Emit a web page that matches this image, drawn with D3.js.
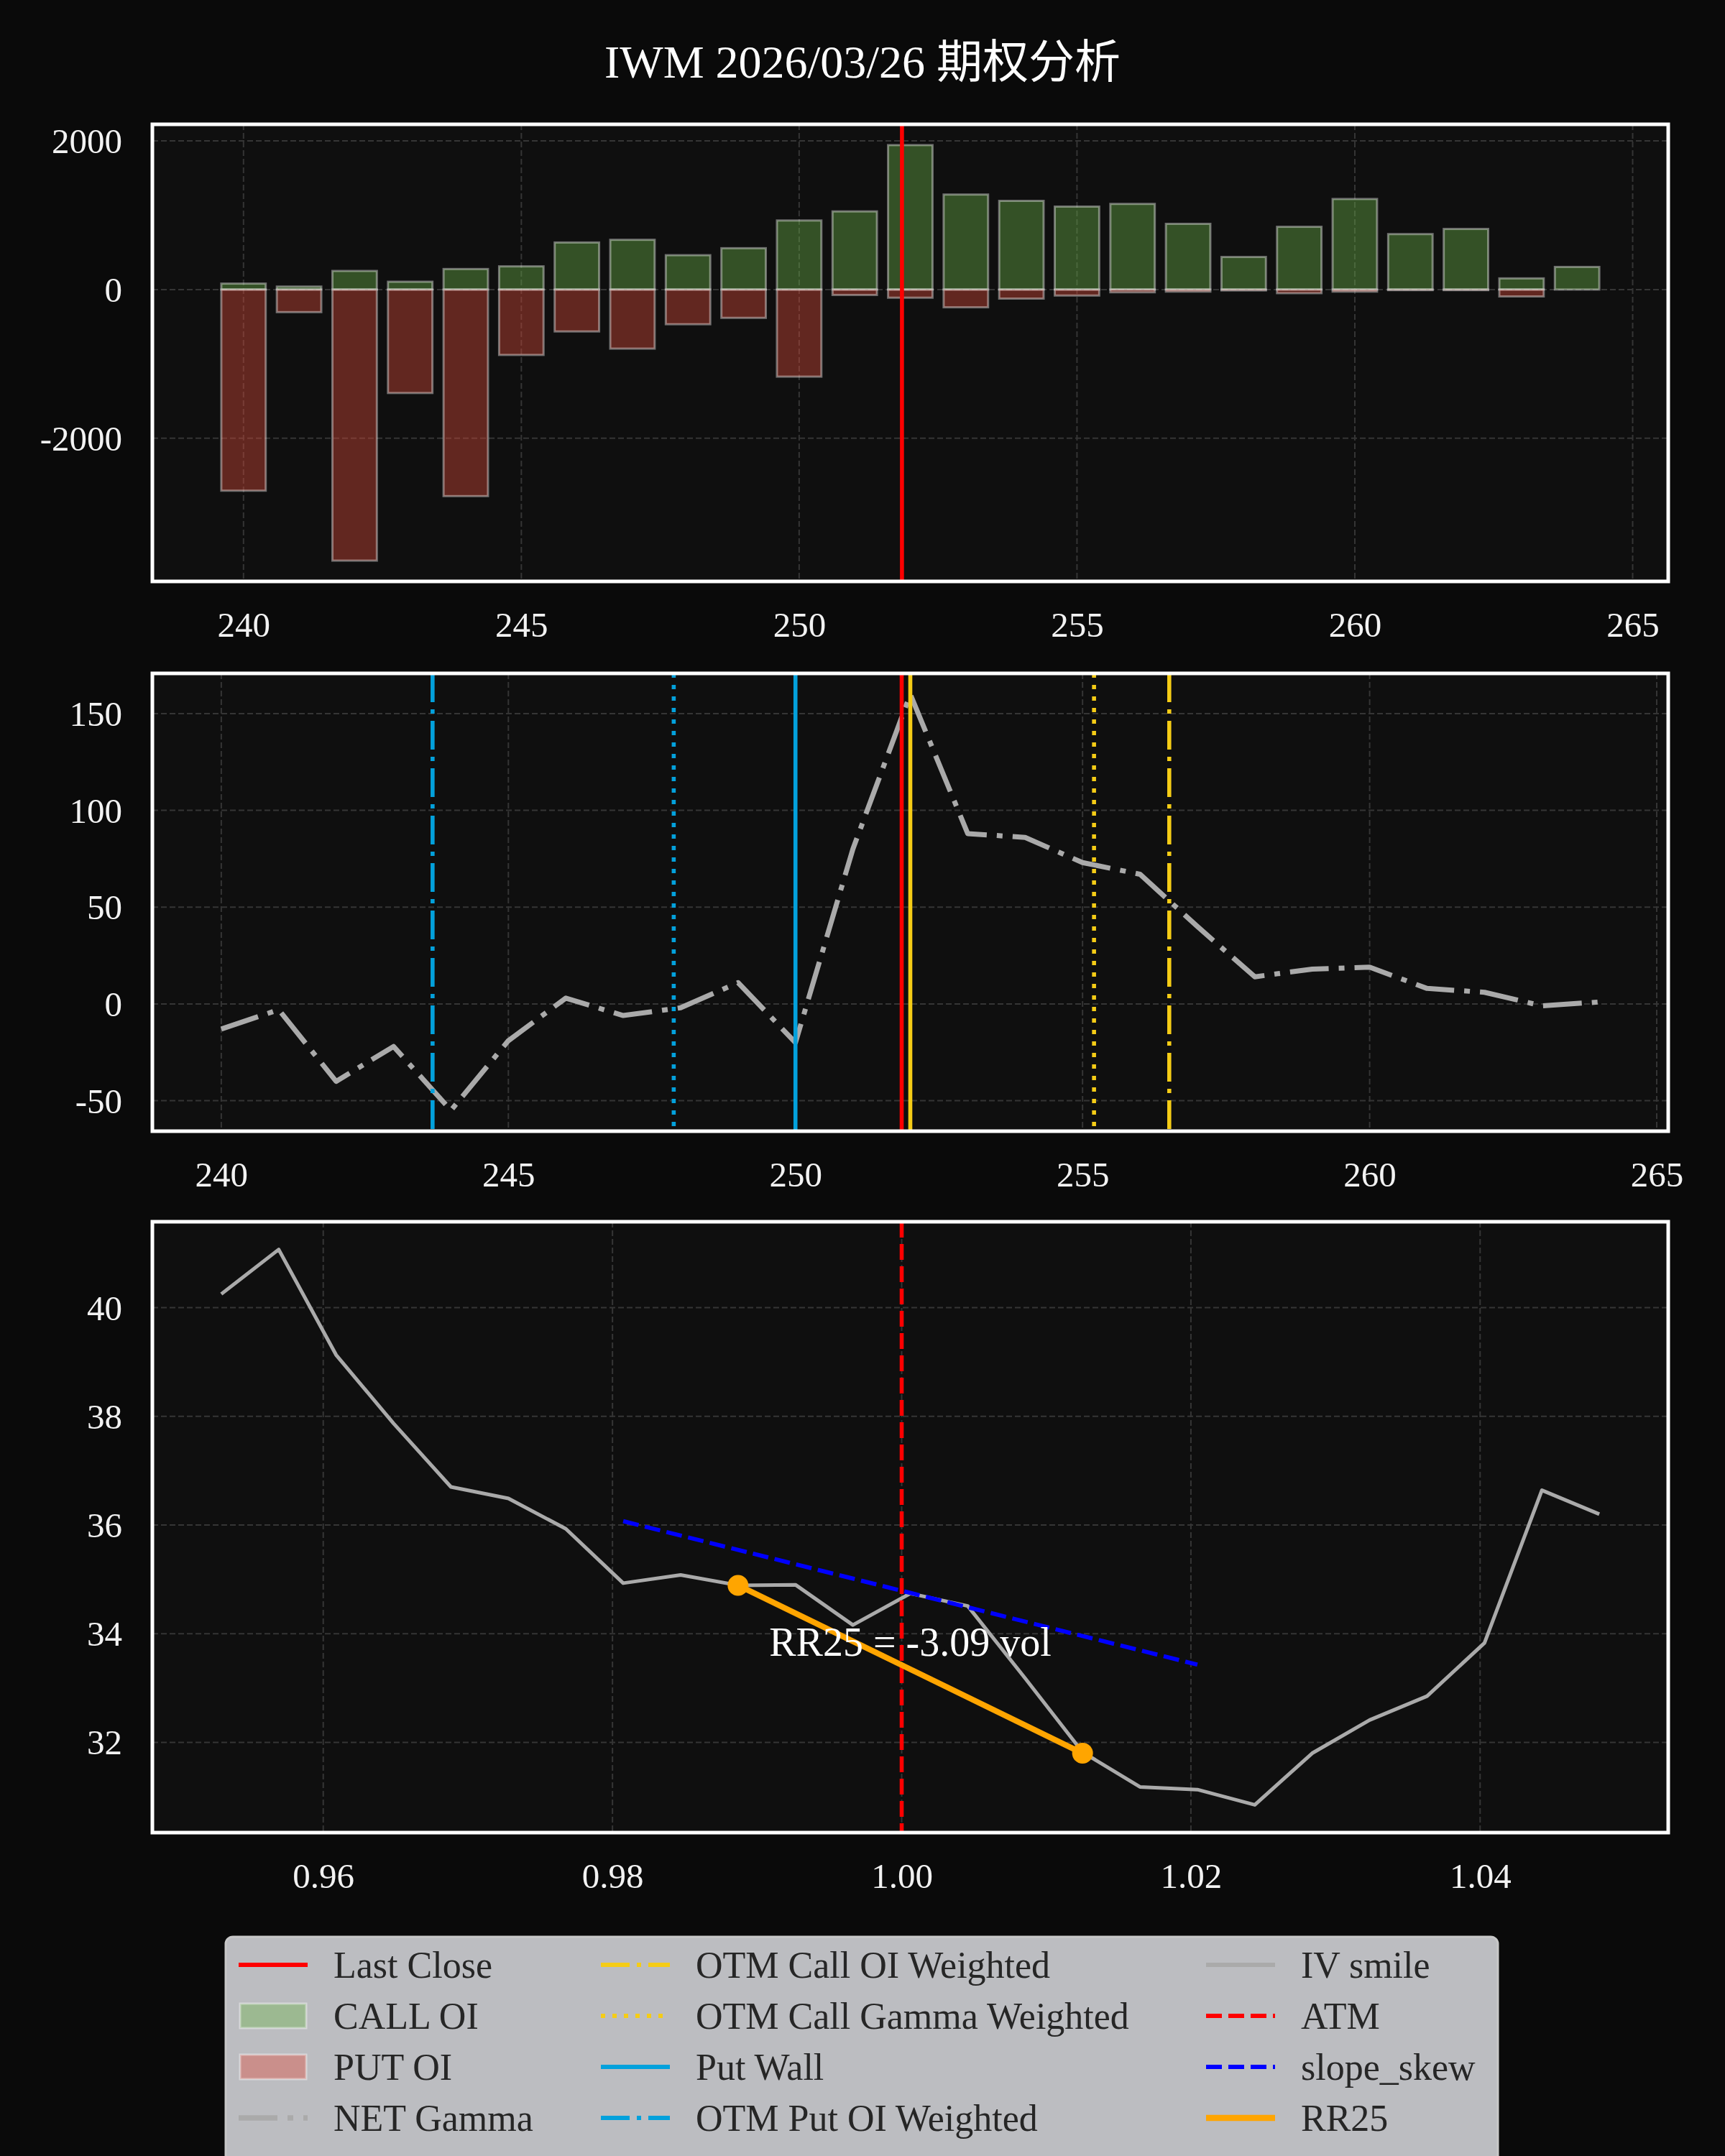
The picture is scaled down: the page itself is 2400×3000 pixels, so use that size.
<!DOCTYPE html>
<html>
<head>
<meta charset="utf-8">
<script src="https://cdn.jsdelivr.net/npm/d3@7"></script>
<style>
  html, body { margin: 0; padding: 0; background: #0a0a0a; }
  svg { display: block; }
</style>
</head>
<body>
<div id="chart"></div>
<script>
// ---- data ----
const strikes = [240, 241, 242, 243, 244, 245, 246, 247, 248, 249, 250, 251, 252,
  253, 254, 255, 256, 257, 258, 259, 260, 261, 262, 263, 264];
const callOI = [80, 40, 250, 105, 276, 312, 633, 669, 462, 556, 929, 1051, 1943,
  1278, 1193, 1116, 1152, 884, 438, 844, 1218, 746, 815, 150, 304];
const putOI = [-2706, -304, -3647, -1392, -2779, -880, -564, -795, -467, -381, -1172, -73, -110,
  -239, -122, -81, -37, -28, -12, -49, -28, -8, -8, -93, 0];
const netGamma = [-13, -3, -40, -22, -55, -19, 3, -6, -2, 11, -20, 80, 160,
  88, 86, 73, 67, 40, 14, 18, 19, 8, 6, -1, 1];
const ivSmile = [40.25, 41.07, 39.13, 37.87, 36.70, 36.49, 35.93, 34.93, 35.08, 34.89, 34.90, 34.16, 34.74,
  34.51, 33.18, 31.82, 31.18, 31.13, 30.85, 31.80, 32.41, 32.85, 33.83, 36.64, 36.20];

const lastClose = 251.85;
const putWall = 250;
const callWall = 252;
const otmPutOI = 243.68;
const otmPutGamma = 247.88;
const otmCallGamma = 255.2;
const otmCallOI = 256.51;

const rrStrikes = [249, 255];
const rrIV = [34.89, 31.80];
const rr25 = -3.09;
const slopeStrikes = [247, 257];
const slopeIV = [36.07, 33.43];

const oiTicks = [-2000, 0, 2000];
const strikeTicks = [240, 245, 250, 255, 260, 265];
const gammaTicks = [-50, 0, 50, 100, 150];
const ivTicks = [32, 34, 36, 38, 40];
const moneyTicks = [0.96, 0.98, 1.00, 1.02, 1.04];

const title = "IWM 2026/03/26 期权分析";

// ---- layout ----
const W = 2400, H = 3000;
const L = 212, R = 2321;
const frames = [
  { top: 173, bottom: 809 },
  { top: 937, bottom: 1574 },
  { top: 1700, bottom: 2550 },
];
const FONT = "'Liberation Serif', 'DejaVu Serif', 'Noto Sans CJK SC', serif";
const GRID = "#353535";
const CALL_C = "#6cb548", PUT_C = "#de4a3a";
const YEL = "#f5cc16", BLU = "#03a1dc";
const DASHDOT = "40,10,6,10", DOTTED = "6,10", DASHED = "22,9";

const pad = (lo, hi, f = 0.05) => [lo - (hi - lo) * f, hi + (hi - lo) * f];

const svg = d3.select("#chart").append("svg")
  .attr("width", W).attr("height", H)
  .attr("viewBox", `0 0 ${W} ${H}`);

svg.append("rect").attr("width", W).attr("height", H).attr("fill", "#0a0a0a");

svg.append("text")
  .attr("x", W / 2).attr("y", 86)
  .attr("text-anchor", "middle")
  .attr("dominant-baseline", "central")
  .attr("fill", "#ffffff")
  .style("font-family", FONT)
  .style("font-size", "64px")
  .text(title);

function makeAxes(i, x, y, xTicks, yTicks, xFmt, yFmt) {
  const { top, bottom } = frames[i];
  const g = svg.append("g");

  g.append("rect")
    .attr("x", L).attr("y", top)
    .attr("width", R - L).attr("height", bottom - top)
    .attr("fill", "#0f0f0f");

  svg.append("defs").append("clipPath").attr("id", `clip${i}`)
    .append("rect")
    .attr("x", L).attr("y", top)
    .attr("width", R - L).attr("height", bottom - top);

  g.append("g").selectAll("line").data(xTicks).join("line")
    .attr("x1", (d) => x(d)).attr("x2", (d) => x(d))
    .attr("y1", top).attr("y2", bottom)
    .attr("stroke", GRID).attr("stroke-width", 2)
    .attr("stroke-dasharray", "8,4");
  g.append("g").selectAll("line").data(yTicks).join("line")
    .attr("x1", L).attr("x2", R)
    .attr("y1", (d) => y(d)).attr("y2", (d) => y(d))
    .attr("stroke", GRID).attr("stroke-width", 2)
    .attr("stroke-dasharray", "8,4");

  const styleText = (sel) => sel
    .attr("fill", "#f2f2f2")
    .attr("dy", null)
    .attr("dominant-baseline", "central")
    .style("font-family", FONT)
    .style("font-size", "49px");

  g.append("g")
    .attr("transform", `translate(0,${bottom})`)
    .call(d3.axisBottom(x).tickValues(xTicks).tickFormat(xFmt).tickSize(0))
    .call((ax) => {
      ax.select(".domain").remove();
      ax.selectAll("text").call(styleText).attr("y", 60);
    });

  g.append("g")
    .attr("transform", `translate(${L},0)`)
    .call(d3.axisLeft(y).tickValues(yTicks).tickFormat(yFmt).tickSize(0))
    .call((ax) => {
      ax.select(".domain").remove();
      ax.selectAll("text").call(styleText).attr("x", -42);
    });

  const plot = g.append("g").attr("clip-path", `url(#clip${i})`);
  const frame = () => g.append("rect")
    .attr("x", L).attr("y", top)
    .attr("width", R - L).attr("height", bottom - top)
    .attr("fill", "none").attr("stroke", "#ffffff").attr("stroke-width", 5);
  return { plot, frame };
}

function vline(plot, x, v, top, bottom, color, dash, width = 5.6) {
  plot.append("line")
    .attr("x1", x(v)).attr("x2", x(v))
    .attr("y1", top).attr("y2", bottom)
    .attr("stroke", color).attr("stroke-width", width)
    .attr("stroke-dasharray", dash);
}

// ---- panel 1: open interest ----
{
  const { top, bottom } = frames[0];
  const x = d3.scaleLinear()
    .domain(pad(d3.min(strikes) - 0.4, d3.max(strikes) + 0.4))
    .range([L, R]);
  const y = d3.scaleLinear()
    .domain(pad(Math.min(0, d3.min(putOI)), Math.max(0, d3.max(callOI))))
    .range([bottom, top]);
  const ax = makeAxes(0, x, y, strikeTicks, oiTicks, (d) => String(d), (d) => String(d));

  const bars = (vals, color) => ax.plot.append("g").selectAll("rect")
    .data(strikes.map((k, i) => ({ k, v: vals[i] })))
    .join("rect")
    .attr("x", (d) => x(d.k - 0.4))
    .attr("width", (d) => x(d.k + 0.4) - x(d.k - 0.4))
    .attr("y", (d) => y(Math.max(0, d.v)))
    .attr("height", (d) => Math.abs(y(d.v) - y(0)))
    .attr("fill", color).attr("fill-opacity", 0.4)
    .attr("stroke", "#ffffff").attr("stroke-opacity", 0.4)
    .attr("stroke-width", 3);
  bars(callOI, CALL_C);
  bars(putOI, PUT_C);

  vline(ax.plot, x, lastClose, top, bottom, "#ff0000", null);
  ax.frame();
}

// ---- panel 2: net gamma ----
{
  const { top, bottom } = frames[1];
  const x = d3.scaleLinear()
    .domain(pad(d3.min(strikes), d3.max(strikes)))
    .range([L, R]);
  const y = d3.scaleLinear()
    .domain(pad(d3.min(netGamma), d3.max(netGamma)))
    .range([bottom, top]);
  const ax = makeAxes(1, x, y, strikeTicks, gammaTicks, (d) => String(d), (d) => String(d));

  const line = d3.line().x((d) => x(d.k)).y((d) => y(d.v));
  ax.plot.append("path")
    .datum(strikes.map((k, i) => ({ k, v: netGamma[i] })))
    .attr("d", line)
    .attr("fill", "none")
    .attr("stroke", "#aaaaaa").attr("stroke-width", 7)
    .attr("stroke-linejoin", "round")
    .attr("stroke-dasharray", "54,14,8,14");

  vline(ax.plot, x, otmPutOI, top, bottom, BLU, DASHDOT);
  vline(ax.plot, x, otmPutGamma, top, bottom, BLU, DOTTED);
  vline(ax.plot, x, putWall, top, bottom, BLU, null);
  vline(ax.plot, x, lastClose, top, bottom, "#ff0000", null);
  vline(ax.plot, x, callWall, top, bottom, YEL, null);
  vline(ax.plot, x, otmCallGamma, top, bottom, YEL, DOTTED);
  vline(ax.plot, x, otmCallOI, top, bottom, YEL, DASHDOT);
  ax.frame();
}

// ---- panel 3: IV smile ----
{
  const { top, bottom } = frames[2];
  const money = strikes.map((k) => k / lastClose);
  const x = d3.scaleLinear()
    .domain(pad(d3.min(money), d3.max(money)))
    .range([L, R]);
  const y = d3.scaleLinear()
    .domain(pad(d3.min(ivSmile), d3.max(ivSmile)))
    .range([bottom, top]);
  const ax = makeAxes(2, x, y, moneyTicks, ivTicks, d3.format(".2f"), (d) => String(d));

  const line = d3.line().x((d) => x(d.m)).y((d) => y(d.v));
  ax.plot.append("path")
    .datum(money.map((m, i) => ({ m, v: ivSmile[i] })))
    .attr("d", line)
    .attr("fill", "none")
    .attr("stroke", "#aaaaaa").attr("stroke-width", 5)
    .attr("stroke-linejoin", "round");

  vline(ax.plot, x, 1.0, top, bottom, "#ff0000", DASHED);

  ax.plot.append("path")
    .datum(slopeStrikes.map((k, i) => ({ m: k / lastClose, v: slopeIV[i] })))
    .attr("d", line)
    .attr("fill", "none")
    .attr("stroke", "#0000ff").attr("stroke-width", 5.8)
    .attr("stroke-dasharray", DASHED);

  const rr = rrStrikes.map((k, i) => ({ m: k / lastClose, v: rrIV[i] }));
  ax.plot.append("path")
    .datum(rr)
    .attr("d", line)
    .attr("fill", "none")
    .attr("stroke", "#ffa500").attr("stroke-width", 8);
  ax.plot.append("g").selectAll("circle").data(rr).join("circle")
    .attr("cx", (d) => x(d.m)).attr("cy", (d) => y(d.v))
    .attr("r", 14.5)
    .attr("fill", "#ffa500");

  ax.plot.append("text")
    .attr("x", x(d3.mean(rr, (d) => d.m)))
    .attr("y", y(d3.mean(rr, (d) => d.v) + 0.5))
    .attr("text-anchor", "middle")
    .attr("dominant-baseline", "central")
    .attr("fill", "#ffffff")
    .style("font-family", FONT)
    .style("font-size", "56px")
    .text(`RR25 = ${rr25.toFixed(2)} vol`);
  ax.frame();
}

// ---- legend ----
const legendItems = [
  { label: "Last Close", type: "line", color: "#ff0000", dash: null, w: 6 },
  { label: "CALL OI", type: "patch", color: CALL_C },
  { label: "PUT OI", type: "patch", color: PUT_C },
  { label: "NET Gamma", type: "line", color: "#aaaaaa", dash: "54,14,8,14", w: 7.5 },
  { label: "OTM Call OI Weighted", type: "line", color: YEL, dash: DASHDOT, w: 6 },
  { label: "OTM Call Gamma Weighted", type: "line", color: YEL, dash: DOTTED, w: 6 },
  { label: "Put Wall", type: "line", color: BLU, dash: null, w: 6 },
  { label: "OTM Put OI Weighted", type: "line", color: BLU, dash: DASHDOT, w: 6 },
  { label: "IV smile", type: "line", color: "#aaaaaa", dash: null, w: 6 },
  { label: "ATM", type: "line", color: "#ff0000", dash: DASHED, w: 6 },
  { label: "slope_skew", type: "line", color: "#0000ff", dash: DASHED, w: 6 },
  { label: "RR25", type: "line", color: "#ffa500", dash: null, w: 8.5 },
];
const legendCols = [332, 836, 1678];
const legendRow0 = 2734, legendRowStep = 71, handleLen = 96, textGap = 132;

const legend = svg.append("g");
legend.append("rect")
  .attr("x", 314).attr("y", 2695)
  .attr("width", 1770).attr("height", 340)
  .attr("rx", 10)
  .attr("fill", "#bcbdc1")
  .attr("stroke", "#c8c8c8").attr("stroke-width", 3);

const item = legend.selectAll("g.item").data(legendItems).join("g")
  .attr("class", "item")
  .attr("transform", (d, i) =>
    `translate(${legendCols[Math.floor(i / 4)]},${legendRow0 + (i % 4) * legendRowStep})`);

item.filter((d) => d.type === "line").append("line")
  .attr("x1", 0).attr("x2", handleLen)
  .attr("stroke", (d) => d.color)
  .attr("stroke-width", (d) => d.w)
  .attr("stroke-dasharray", (d) => d.dash);

item.filter((d) => d.type === "patch").append("rect")
  .attr("x", 2).attr("y", -17)
  .attr("width", handleLen - 4).attr("height", 34)
  .attr("fill", (d) => d.color).attr("fill-opacity", 0.4)
  .attr("stroke", "#ffffff").attr("stroke-opacity", 0.4)
  .attr("stroke-width", 3);

item.append("text")
  .attr("x", textGap)
  .attr("dominant-baseline", "central")
  .attr("fill", "#262626")
  .style("font-family", FONT)
  .style("font-size", "52px")
  .text((d) => d.label);
</script>
</body>
</html>
